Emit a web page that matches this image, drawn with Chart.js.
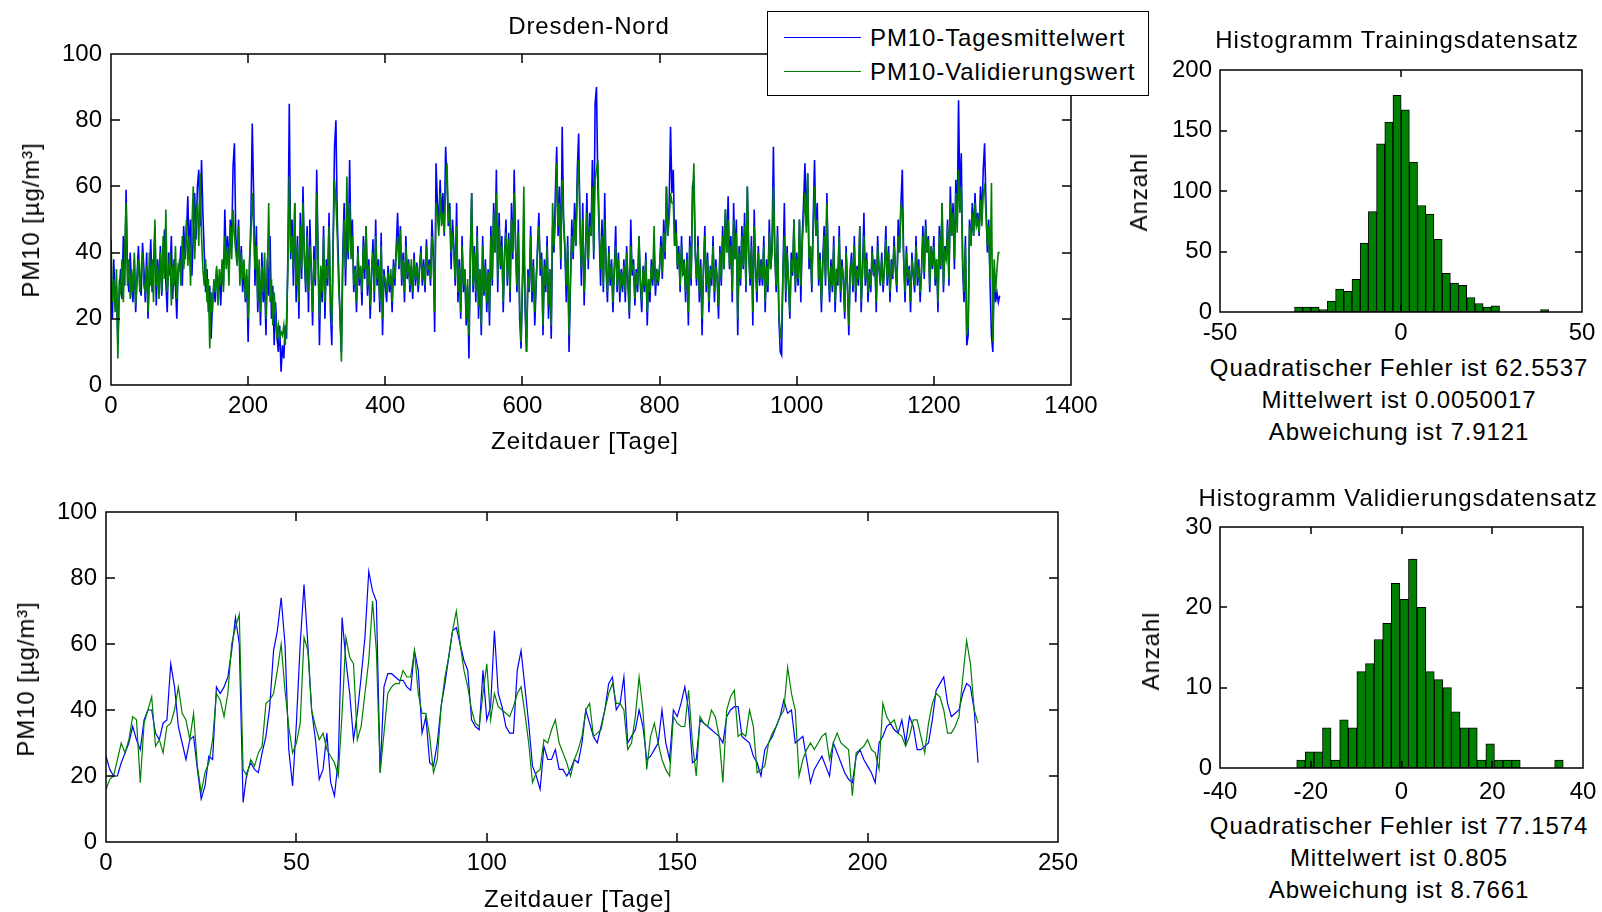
<!DOCTYPE html>
<html>
<head>
<meta charset="utf-8">
<script src="https://cdn.jsdelivr.net/npm/chart.js@4.4.1/dist/chart.umd.min.js"></script>
<style>
html,body{margin:0;padding:0;background:#fff;}
body{position:relative;width:1602px;height:912px;overflow:hidden;font-family:"Liberation Sans",Arial,sans-serif;color:#000;}
canvas{position:absolute;}
.t{position:absolute;white-space:nowrap;font-size:24px;letter-spacing:0.9px;line-height:1;transform:translate(-50%,-50%);}
.r{transform:translate(-50%,-50%) rotate(-90deg);}
#legend{position:absolute;left:767px;top:11px;width:380px;height:83px;border:1px solid #000;background:#fff;}
#legend .ln{position:absolute;left:16px;width:77px;height:0;border-top:1.5px solid;}
#legend .lt{position:absolute;left:102px;font-size:24px;letter-spacing:0.9px;line-height:1;transform:translateY(-50%);white-space:nowrap;}
</style>
</head>
<body>
<canvas id="c1" width="1100" height="470" style="left:0;top:0"></canvas>
<canvas id="c2" width="1100" height="420" style="left:0;top:470px"></canvas>
<canvas id="c3" width="452" height="300" style="left:1150px;top:50px"></canvas>
<canvas id="c4" width="452" height="300" style="left:1150px;top:505px"></canvas>

<div class="t" style="left:589px;top:26px">Dresden-Nord</div>
<div class="t" style="left:585px;top:441px">Zeitdauer [Tage]</div>
<div class="t r" style="left:31px;top:220px">PM10 [µg/m³]</div>
<div class="t" style="left:578px;top:899px">Zeitdauer [Tage]</div>
<div class="t r" style="left:26px;top:679px">PM10 [µg/m³]</div>

<div class="t" style="left:1397px;top:40px">Histogramm Trainingsdatensatz</div>
<div class="t r" style="left:1139px;top:192px">Anzahl</div>
<div class="t" style="left:1399px;top:368px">Quadratischer Fehler ist 62.5537</div>
<div class="t" style="left:1399px;top:400px">Mittelwert ist 0.0050017</div>
<div class="t" style="left:1399px;top:432px">Abweichung ist 7.9121</div>

<div class="t" style="left:1398px;top:498px">Histogramm Validierungsdatensatz</div>
<div class="t r" style="left:1151px;top:651px">Anzahl</div>
<div class="t" style="left:1399px;top:826px">Quadratischer Fehler ist 77.1574</div>
<div class="t" style="left:1399px;top:858px">Mittelwert ist 0.805</div>
<div class="t" style="left:1399px;top:890px">Abweichung ist 8.7661</div>

<div id="legend">
  <div class="ln" style="top:25px;border-color:#0000ff"></div>
  <div class="lt" style="top:26px">PM10-Tagesmittelwert</div>
  <div class="ln" style="top:59px;border-color:#008000"></div>
  <div class="lt" style="top:60px">PM10-Validierungswert</div>
</div>

<script>
// ---------- data ----------
// Top panel: every 2nd day, 0..1296
const topBlue = [
32,20,38,25,30,12,28,35,26,45,30,59,35,28,40,30,25,38,22,33,42,30,27,43,35,
25,40,20,33,44,28,35,48,24,38,30,42,27,36,47,31,22,40,33,45,26,38,30,20,36,
35,42,30,48,38,45,57,40,50,33,46,58,44,60,65,48,68,52,40,28,35,22,30,14,25,
30,25,35,28,33,24,36,30,53,38,45,36,50,42,66,73,45,38,50,32,42,28,36,25,33,
13,35,50,79,58,30,48,22,35,18,40,25,32,15,38,27,45,20,30,12,25,15,10,18,4,
12,8,18,14,40,85,38,50,30,55,25,45,20,52,32,60,38,28,48,22,50,35,18,42,30,
65,40,12,35,25,48,20,38,30,52,22,12,45,72,80,50,35,20,10,40,55,30,48,38,68,
40,50,28,36,22,42,30,35,24,45,32,48,27,38,20,33,44,25,50,30,38,22,46,15,35,
30,25,36,28,33,22,38,30,42,52,35,48,30,40,25,45,32,38,28,36,26,40,30,37,28,
35,42,30,38,28,44,33,38,30,50,40,16,67,55,48,62,50,58,45,72,62,48,55,35,50,
42,30,55,25,38,20,45,28,35,18,30,8,40,58,28,42,25,48,20,35,15,45,27,38,22,
35,18,48,30,55,40,65,28,52,35,45,22,40,50,30,46,25,55,38,65,42,28,50,20,11,
30,45,22,10,35,28,48,25,38,18,30,42,52,33,40,15,38,28,45,20,35,14,48,40,58,
72,45,60,35,78,50,40,25,45,10,30,50,38,55,42,65,76,48,30,55,24,40,58,35,52,
45,68,38,85,90,60,45,30,50,28,58,35,25,42,30,38,22,35,48,28,40,25,35,28,38,
25,42,30,20,50,33,38,24,35,28,45,30,22,36,28,40,18,32,25,38,30,42,27,35,30,
35,45,32,50,38,60,45,55,78,58,65,42,50,35,42,28,45,33,38,25,40,18,45,30,60,
62,40,30,45,25,38,15,35,48,28,40,22,36,30,45,25,38,32,20,42,30,48,35,53,40,
57,35,45,25,55,38,50,15,42,30,48,35,52,28,60,40,30,45,18,53,35,25,42,30,38,
30,45,22,38,28,50,35,42,72,40,28,48,20,10,9,35,55,25,42,30,20,40,33,50,28,
40,30,50,25,45,55,67,48,64,35,42,28,50,68,45,55,30,40,22,38,48,30,58,35,25,
38,28,45,22,35,30,48,25,38,32,20,42,30,15,35,40,28,45,25,36,30,48,22,35,52,
30,40,25,35,28,42,33,38,22,45,35,30,40,28,36,48,30,42,25,38,32,45,35,28,50,
40,55,65,38,25,42,30,36,22,40,33,28,45,30,38,25,35,48,32,50,40,45,28,42,35,
45,30,38,22,48,35,55,28,42,38,50,30,60,45,55,35,62,48,86,55,70,35,25,45,12,
15,50,42,55,45,58,48,52,45,60,50,65,73,55,40,50,30,15,10,35,25,28,25,27
];
const topGreen = [
44,25,32,22,35,8,30,28,38,25,40,55,30,38,26,35,28,40,24,32,38,28,35,40,30,
28,36,22,40,30,38,25,50,30,36,26,40,28,45,32,53,28,35,40,24,36,30,42,26,34,
38,30,45,35,40,50,36,45,30,48,60,38,50,55,42,64,45,35,30,38,25,32,11,28,22,
32,28,36,24,35,30,38,28,45,35,42,30,48,38,53,45,40,36,48,30,40,32,38,26,35,
20,38,45,58,48,35,42,25,38,22,36,28,40,20,35,55,25,32,18,28,20,15,18,14,16,
15,18,12,20,35,63,40,45,35,55,30,42,25,48,35,55,40,30,45,28,42,35,22,38,32,
58,38,20,36,28,45,25,36,32,48,28,18,42,62,55,45,30,22,7,36,50,35,63,40,55,
38,45,30,35,25,40,32,36,28,42,35,48,30,36,24,35,40,28,45,32,36,25,42,20,33,
32,28,34,30,35,25,36,32,40,45,36,47,32,38,28,42,34,36,30,38,28,38,32,36,30,
36,40,32,36,30,42,35,36,32,45,38,22,55,52,45,58,48,52,46,60,67,50,52,40,46,
40,32,48,28,36,22,42,30,35,20,32,15,38,58,30,40,28,45,24,35,18,42,28,36,25,
34,22,45,32,52,40,58,32,48,36,42,25,40,46,32,44,28,50,40,58,42,30,46,24,13,
32,60,25,10,32,30,45,28,36,22,32,40,48,35,38,18,36,30,42,24,35,18,55,42,50,
67,48,55,38,62,50,42,30,42,15,32,45,40,50,42,60,68,48,35,50,28,40,52,38,48,
45,60,40,62,65,68,48,35,45,30,50,36,28,40,32,36,25,35,42,30,38,28,34,30,36,
28,40,32,22,42,35,36,26,34,30,45,32,25,35,30,38,22,32,28,36,32,48,30,34,32,
36,42,34,46,40,60,45,50,58,55,55,42,46,36,40,30,42,34,36,28,38,22,42,32,55,
67,40,32,42,28,36,20,35,45,30,38,25,35,32,42,28,36,32,24,40,32,45,35,53,40,
50,36,42,28,50,38,46,20,40,32,45,36,48,30,60,40,32,42,22,48,36,28,40,32,36,
32,42,25,36,30,46,35,40,60,40,30,45,22,14,18,35,45,28,40,32,22,38,34,50,30,
38,32,50,30,42,50,58,46,64,38,42,30,46,60,45,50,32,38,25,36,45,32,55,36,28,
36,30,42,25,34,32,45,28,36,32,22,40,30,18,34,38,30,42,28,35,32,48,25,34,45,
32,38,28,34,30,40,34,36,25,42,35,32,38,30,35,44,32,40,28,36,34,42,35,30,45,
40,55,52,38,28,40,32,35,25,38,34,30,42,32,36,28,34,45,34,48,40,44,30,42,36,
42,32,38,25,45,36,55,30,40,38,48,32,55,45,52,38,58,46,65,52,60,38,28,42,15,
18,48,42,52,45,55,48,50,46,56,48,58,60,52,42,48,32,61,13,38,28,35,40,40
];
// Bottom panel: daily, 0..229
const botBlue = [
26,22,20,20,24,27,30,35,31,28, 37,40,40,33,31,36,37,54,47,35,
30,25,31,32,22,13,17,26,25,47, 45,47,50,58,68,60,12,21,24,22,
21,27,32,41,58,64,74,60,28,17, 36,60,78,60,40,31,19,22,33,18,
14,25,68,55,45,31,39,50,62,82, 76,73,21,47,51,51,50,49,49,47,
46,58,52,33,38,24,23,30,41,48, 56,64,65,60,55,52,37,35,34,52,
37,41,64,45,41,35,33,33,52,58, 47,36,23,20,16,29,25,25,28,22,
22,20,22,25,24,30,40,36,32,30, 35,40,48,50,40,42,50,30,32,34,
40,35,25,26,28,30,40,30,25,40, 38,42,47,40,24,25,37,36,35,34,
33,32,30,38,40,41,41,32,31,30, 26,24,20,28,30,32,35,38,43,39,
40,30,31,32,25,18,22,24,26,23, 20,30,27,24,21,19,18,26,28,25,
23,21,18,30,32,35,36,34,33,37, 30,38,35,28,28,29,30,37,46,48,
50,42,38,39,40,45,48,47,40,24
];
const botGreen = [
16,19,20,25,30,27,31,38,37,18, 36,40,44,29,31,27,35,36,40,47,
39,37,31,39,23,15,21,24,31,45, 43,38,45,60,65,69,22,20,25,23,
27,29,42,43,45,52,60,46,35,27, 30,36,62,58,40,35,31,33,28,26,
24,20,39,62,56,54,31,35,45,55, 73,58,21,33,45,47,48,48,52,50,
50,58,45,39,39,32,21,25,41,50, 56,64,70,60,52,47,40,36,35,45,
54,37,45,41,40,39,38,41,45,47, 39,30,18,21,22,31,30,34,37,30,
27,24,20,25,28,32,40,42,32,33, 34,40,45,48,42,42,40,28,30,38,
50,40,22,32,36,30,25,22,20,38, 36,35,35,46,30,20,38,36,35,40,
38,32,18,40,44,46,32,33,32,40, 35,21,22,23,30,33,35,38,40,53,
45,40,20,25,28,30,28,30,32,33, 25,30,33,30,29,28,14,27,28,29,
31,28,27,22,42,38,36,37,33,32, 29,32,37,37,32,27,36,42,45,44,
40,33,33,35,38,50,61,54,40,36
];
// Histograms
const trainBinCenters = [-28.27,-26.00,-23.74,-21.47,-19.21,-16.94,-14.68,-12.41,-10.15,-7.88,-5.62,-3.35,-1.09,1.18,3.44,5.71,7.97,10.24,12.50,14.77,17.03,19.30,21.56,23.83,26.09,28.36,30.62,32.89,35.15,37.42,39.68];
const trainCounts = [4,4,4,2,9,19,17,27,57,83,139,157,179,167,124,88,81,60,32,24,22,12,7,4,5,0,0,0,0,0,2];
const valBinCenters = [-22.15,-20.26,-18.36,-16.47,-14.57,-12.68,-10.78,-8.89,-6.99,-5.10,-3.20,-1.31,0.59,2.48,4.38,6.27,8.17,10.06,11.96,13.85,15.75,17.64,19.54,21.43,23.33,25.22,27.12,29.01,30.91,32.80,34.70];
const valCounts = [1,2,2,5,1,6,5,12,13,16,18,23,21,26,20,12,11,10,7,5,5,1,3,1,1,1,0,0,0,0,1];

// Tick labels
const topXTicks = [0,200,400,600,800,1000,1200,1400];
const botXTicks = [0,50,100,150,200,250];
const pmYTicks = [0,20,40,60,80,100];
const trainXTicks = [-50,0,50];
const trainYTicks = [0,50,100,150,200];
const valXTicks = [-40,-20,0,20,40];
const valYTicks = [0,10,20,30];

const topDays = topBlue.map((_, i) => i * 2);
const botDays = botBlue.map((_, i) => i);

// ---------- rendering ----------
const FONT = '"Liberation Sans", Arial, sans-serif';

const matBox = {
  id: 'matBox',
  afterDraw(chart, args, opts) {
    const {ctx, chartArea: a, scales} = chart;
    const len = opts.len || 8;
    ctx.save();
    ctx.strokeStyle = '#000';
    ctx.lineWidth = 1.5;
    const L = Math.round(a.left), R = Math.round(a.right), T = Math.round(a.top), B = Math.round(a.bottom);
    ctx.beginPath();
    ctx.rect(L, T, R - L, B - T);
    scales.x.ticks.forEach(t => {
      const p = Math.round(scales.x.getPixelForValue(t.value));
      ctx.moveTo(p, B); ctx.lineTo(p, B - len);
      ctx.moveTo(p, T); ctx.lineTo(p, T + len);
    });
    scales.y.ticks.forEach(t => {
      const p = Math.round(scales.y.getPixelForValue(t.value));
      ctx.moveTo(L, p); ctx.lineTo(L + len, p);
      ctx.moveTo(R, p); ctx.lineTo(R - len, p);
    });
    ctx.stroke();
    ctx.restore();
  }
};

const plain = v => String(v);

function opts(g, xr, yr, xt, yt, tickLen) {
  return {
    responsive: false,
    animation: false,
    events: [],
    layout: {autoPadding: false, padding: {left: g.pl, top: g.pt, right: g.pr, bottom: g.pb}},
    plugins: {legend: {display: false}, tooltip: {enabled: false}, title: {display: false}, matBox: {len: tickLen}},
    scales: {
      x: {
        type: 'linear', min: xr[0], max: xr[1], offset: false,
        grid: {display: false, drawTicks: false, offset: false}, border: {display: false},
        ticks: {padding: g.xpad, color: '#000', font: {family: FONT, size: 24}, maxRotation: 0, autoSkip: false, callback: plain},
        afterBuildTicks: s => { s.ticks = xt.map(v => ({value: v})); },
        afterFit: s => { s.height = g.xh; s.paddingLeft = 0; s.paddingRight = 0; }
      },
      y: {
        type: 'linear', min: yr[0], max: yr[1],
        grid: {display: false, drawTicks: false}, border: {display: false},
        ticks: {padding: g.ypad, color: '#000', font: {family: FONT, size: 24}, autoSkip: false, callback: plain},
        afterBuildTicks: s => { s.ticks = yt.map(v => ({value: v})); },
        afterFit: s => { s.width = g.yw; s.paddingTop = 0; s.paddingBottom = 0; }
      }
    }
  };
}

function lineSet(label, data, color, order, width) {
  return {label, data, borderColor: color, borderWidth: width, pointRadius: 0, tension: 0, fill: false, order};
}

// Top-left: plot 111..1071 x 54..385 (canvas at 0,0 size 1100x470)
new Chart(document.getElementById('c1'), {
  type: 'line',
  data: {labels: topDays, datasets: [
    lineSet('PM10-Tagesmittelwert', topBlue, '#0000ff', 1, 1.6),
    lineSet('PM10-Validierungswert', topGreen, '#008000', 0, 1.6)
  ]},
  options: opts({pl: 41, pt: 54, pr: 29, pb: 35, yw: 70, xh: 50, xpad: 7, ypad: 9}, [0, 1400], [0, 100], topXTicks, pmYTicks, 9),
  plugins: [matBox]
});

// Bottom-left: plot 106..1058 x 512..842 (canvas at 0,470 size 1100x420)
new Chart(document.getElementById('c2'), {
  type: 'line',
  data: {labels: botDays, datasets: [
    lineSet('PM10-Tagesmittelwert', botBlue, '#0000ff', 1, 1.2),
    lineSet('PM10-Validierungswert', botGreen, '#008000', 0, 1.2)
  ]},
  options: opts({pl: 36, pt: 42, pr: 42, pb: 8, yw: 70, xh: 40, xpad: 7, ypad: 9}, [0, 250], [0, 100], botXTicks, pmYTicks, 9),
  plugins: [matBox]
});

function histSet(centers, counts) {
  return {
    data: centers.map((c, i) => ({x: c, y: counts[i]})),
    backgroundColor: '#008000', borderColor: '#000', borderWidth: 1, borderSkipped: false,
    barPercentage: 1, categoryPercentage: 1
  };
}

// Top-right histogram: plot 1220..1582 x 70..312 (canvas at 1150,50 size 452x300)
new Chart(document.getElementById('c3'), {
  type: 'bar',
  data: {datasets: [histSet(trainBinCenters, trainCounts)]},
  options: opts({pl: 10, pt: 20, pr: 20, pb: 2, yw: 60, xh: 36, xpad: 7, ypad: 8}, [-50, 50], [0, 200], trainXTicks, trainYTicks, 7),
  plugins: [matBox]
});

// Bottom-right histogram: plot 1220..1583 x 527..768 (canvas at 1150,505 size 452x300)
new Chart(document.getElementById('c4'), {
  type: 'bar',
  data: {datasets: [histSet(valBinCenters, valCounts)]},
  options: opts({pl: 10, pt: 22, pr: 19, pb: 1, yw: 60, xh: 36, xpad: 10, ypad: 8}, [-40, 40], [0, 30], valXTicks, valYTicks, 7),
  plugins: [matBox]
});
</script>
</body>
</html>
